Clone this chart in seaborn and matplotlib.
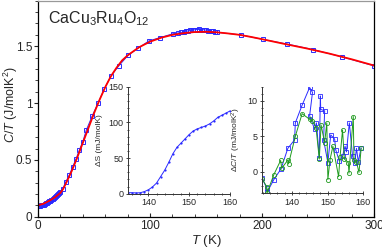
import numpy as np
import pandas as pd
import seaborn as sns
import matplotlib
matplotlib.use("Agg")
import matplotlib.pyplot as plt
from matplotlib.ticker import MultipleLocator, FixedLocator

# C/T data (squares) for CaCu3Ru4O12
temp = [1, 2, 3, 4, 5, 6, 7, 8, 9, 10, 11, 12, 13, 14, 15, 16, 17, 18, 19, 20,
        22, 25, 28, 31, 34, 37, 40, 43, 48.5, 53.6, 59.2, 65.2, 72.3, 80.4, 89, 99,
        109, 120.5, 125, 128, 130, 132, 134, 136, 138, 140, 142, 144, 146, 148,
        150, 152, 154, 156, 158, 160, 181, 200.6, 222, 245.8, 271.3, 300]
ct = [0.095, 0.097, 0.10, 0.103, 0.107, 0.112, 0.117, 0.123, 0.129, 0.135, 0.142,
      0.149, 0.156, 0.164, 0.172, 0.181, 0.19, 0.2, 0.21, 0.22,
      0.245, 0.31, 0.37, 0.44, 0.51, 0.59, 0.66, 0.76, 0.89, 1.0, 1.125, 1.24,
      1.33, 1.42, 1.48, 1.547, 1.576, 1.61, 1.617, 1.622, 1.627, 1.631, 1.635,
      1.639, 1.642, 1.645, 1.647, 1.648, 1.647, 1.645, 1.642, 1.638, 1.634,
      1.63, 1.626, 1.622, 1.60, 1.56, 1.52, 1.47, 1.406, 1.327]

# fit curve
fit_t = [0, 5, 10, 15, 20, 22.5, 25, 30, 35, 40, 45, 50, 55, 60, 65, 70, 75, 80,
         90, 100, 110, 120, 130, 140, 150, 160, 170, 180, 190, 200, 220, 240,
         260, 280, 300]
fit_ct = [0.10, 0.115, 0.14, 0.17, 0.21, 0.245, 0.295, 0.40, 0.52, 0.65, 0.78,
          0.91, 1.03, 1.14, 1.235, 1.31, 1.375, 1.42, 1.49, 1.54, 1.575, 1.60,
          1.615, 1.625, 1.627, 1.622, 1.612, 1.60, 1.582, 1.562, 1.52, 1.48,
          1.435, 1.385, 1.33]

# entropy inset
ds_t = list(range(135, 161))
ds = [1.5, 1.5, 1.2, 1.4, 3, 5.5, 9.5, 15, 24, 33, 44, 56, 65, 71, 77, 83, 88,
      91, 93, 95, 98, 102, 107, 110, 113, 116]

# delta C/T inset, two runs
blue_t = [131.7, 133.0, 133.2, 135.0, 137.0, 138.9, 140.8, 141.0, 142.9, 145.0,
          145.8, 145.0, 146.4, 146.9, 147.7, 148.0, 148.1, 149.2, 148.9, 150.1,
          150.9, 152.0, 152.3, 153.3, 154.2, 154.9, 155.3, 156.1, 157.0, 157.6,
          158.1, 158.6, 159.4]
blue_v = [-0.9, -2.3, -2.8, -1.1, 0.4, 3.3, 4.5, 6.9, 9.4, 11.9, 11.2, 7.9, 6.0,
          6.9, 2.0, 10.7, 8.8, 8.6, 4.5, 1.3, 5.2, 4.6, 3.1, 1.5, 2.2, 3.6, 2.8,
          6.9, 2.2, 1.2, 3.3, 1.4, 3.4]
green_t = [131.7, 133.0, 133.1, 135.0, 136.9, 137.2, 139.0, 139.1, 141.0, 142.9,
           145.0, 145.8, 146.8, 147.7, 148.2, 149.2, 149.8, 150.1, 150.7, 151.5,
           153.1, 153.5, 154.2, 154.7, 155.8, 156.0, 157.2, 157.4, 158.1, 158.8,
           159.4]
green_v = [-1.0, -2.1, -3.0, -0.4, 1.6, 0.5, 1.7, 1.1, 5.0, 8.2, 7.4, 7.2, 6.2,
           1.8, 6.6, 4.1, 6.9, -1.1, 1.7, 3.6, -0.7, 2.1, 5.9, 1.8, 1.3, -0.2,
           7.8, 1.7, 1.4, -0.1, 3.3]

sns.set_style("ticks")
plt.rcParams['font.family'] = ['Liberation Sans', 'DejaVu Sans']
plt.rcParams['mathtext.fontset'] = 'custom'
plt.rcParams['mathtext.rm'] = 'Liberation Sans'
plt.rcParams['mathtext.it'] = 'Liberation Sans:italic'

blue = '#2a2aff'
green = '#1f9a1f'

fig = plt.figure(figsize=(3.82, 2.5), dpi=100)
ax = fig.add_axes([0.0995, 0.133, 0.88, 0.864])

sns.lineplot(x=temp, y=ct, ax=ax, color=blue, lw=0.7, marker='s', markersize=3.2,
             markerfacecolor='none', markeredgecolor=blue, markeredgewidth=0.7,
             estimator=None, sort=False)
sns.lineplot(x=fit_t, y=fit_ct, ax=ax, color='red', lw=1.3, estimator=None, sort=False)

ax.set_xlim(0, 300)
ax.set_ylim(0, 1.9)
ax.xaxis.set_major_locator(FixedLocator([0, 100, 200, 300]))
ax.xaxis.set_minor_locator(MultipleLocator(20))
ax.yaxis.set_major_locator(FixedLocator([0, 0.5, 1, 1.5]))
ax.set_yticklabels(['0', '0.5', '1', '1.5'])
ax.yaxis.set_minor_locator(MultipleLocator(0.1))
ax.tick_params(axis='x', which='both', direction='in', labelsize=8.5, pad=2)
ax.tick_params(axis='x', which='major', length=3)
ax.tick_params(axis='x', which='minor', length=2)
ax.tick_params(axis='y', which='both', direction='out', labelsize=8.5, pad=1)
ax.tick_params(axis='y', which='major', length=3)
ax.tick_params(axis='y', which='minor', length=2)
for s in ax.spines.values():
    s.set_linewidth(0.9)
    s.set_color('black')
ax.spines['top'].set_color('#999999')
ax.set_xlabel('$T$ (K)', fontsize=9.5, labelpad=1)
ax.set_ylabel('$C/T$ (J/molK$^2$)', fontsize=9)
ax.yaxis.set_label_coords(-0.055, 0.52)
ax.text(0.03, 0.96, 'CaCu$_3$Ru$_4$O$_{12}$', transform=ax.transAxes,
        fontsize=11.5, va='top', ha='left')

# inset: entropy
ax1 = fig.add_axes([0.335, 0.225, 0.267, 0.428])
ax1.patch.set_visible(False)
sns.lineplot(x=ds_t, y=ds, ax=ax1, color=blue, lw=0.7, marker='o', markersize=1.6,
             markeredgewidth=0, markerfacecolor=blue, estimator=None)
ax1.set_xlim(135, 160)
ax1.set_ylim(0, 150)
ax1.xaxis.set_major_locator(FixedLocator([140, 150, 160]))
ax1.xaxis.set_minor_locator(MultipleLocator(2))
ax1.yaxis.set_major_locator(FixedLocator([0, 50, 100, 150]))
ax1.yaxis.set_minor_locator(MultipleLocator(10))
sns.despine(ax=ax1)
ax1.set_xlabel('')
ax1.set_ylabel('ΔS (mJ/molK)', fontsize=6, labelpad=4)

# inset: delta C/T
ax2 = fig.add_axes([0.686, 0.228, 0.265, 0.425])
ax2.patch.set_visible(False)
sns.lineplot(x=blue_t, y=blue_v, ax=ax2, color=blue, lw=0.7, marker='s', markersize=3,
             markerfacecolor='none', markeredgecolor=blue, markeredgewidth=0.6,
             estimator=None, sort=False)
sns.lineplot(x=green_t, y=green_v, ax=ax2, color=green, lw=0.7, marker='o', markersize=3,
             markerfacecolor='none', markeredgecolor=green, markeredgewidth=0.6,
             estimator=None, sort=False)
ax2.set_xlim(131.7, 160)
ax2.set_ylim(-3, 12)
ax2.xaxis.set_major_locator(FixedLocator([140, 150, 160]))
ax2.xaxis.set_minor_locator(MultipleLocator(2))
ax2.yaxis.set_major_locator(FixedLocator([0, 5, 10]))
ax2.yaxis.set_minor_locator(MultipleLocator(1))
sns.despine(ax=ax2)
ax2.set_xlabel('')
ax2.set_ylabel('Δ$C/T$ (mJ/molK$^2$)', fontsize=6, labelpad=3)

for a in (ax1, ax2):
    a.tick_params(which='both', direction='inout', labelsize=6.5, pad=1.5, width=0.6)
    a.tick_params(which='major', length=3.5)
    a.tick_params(which='minor', length=2)
    for s in a.spines.values():
        s.set_linewidth(0.7)
        s.set_color('#333333')

fig.savefig('out.png', dpi=100)
